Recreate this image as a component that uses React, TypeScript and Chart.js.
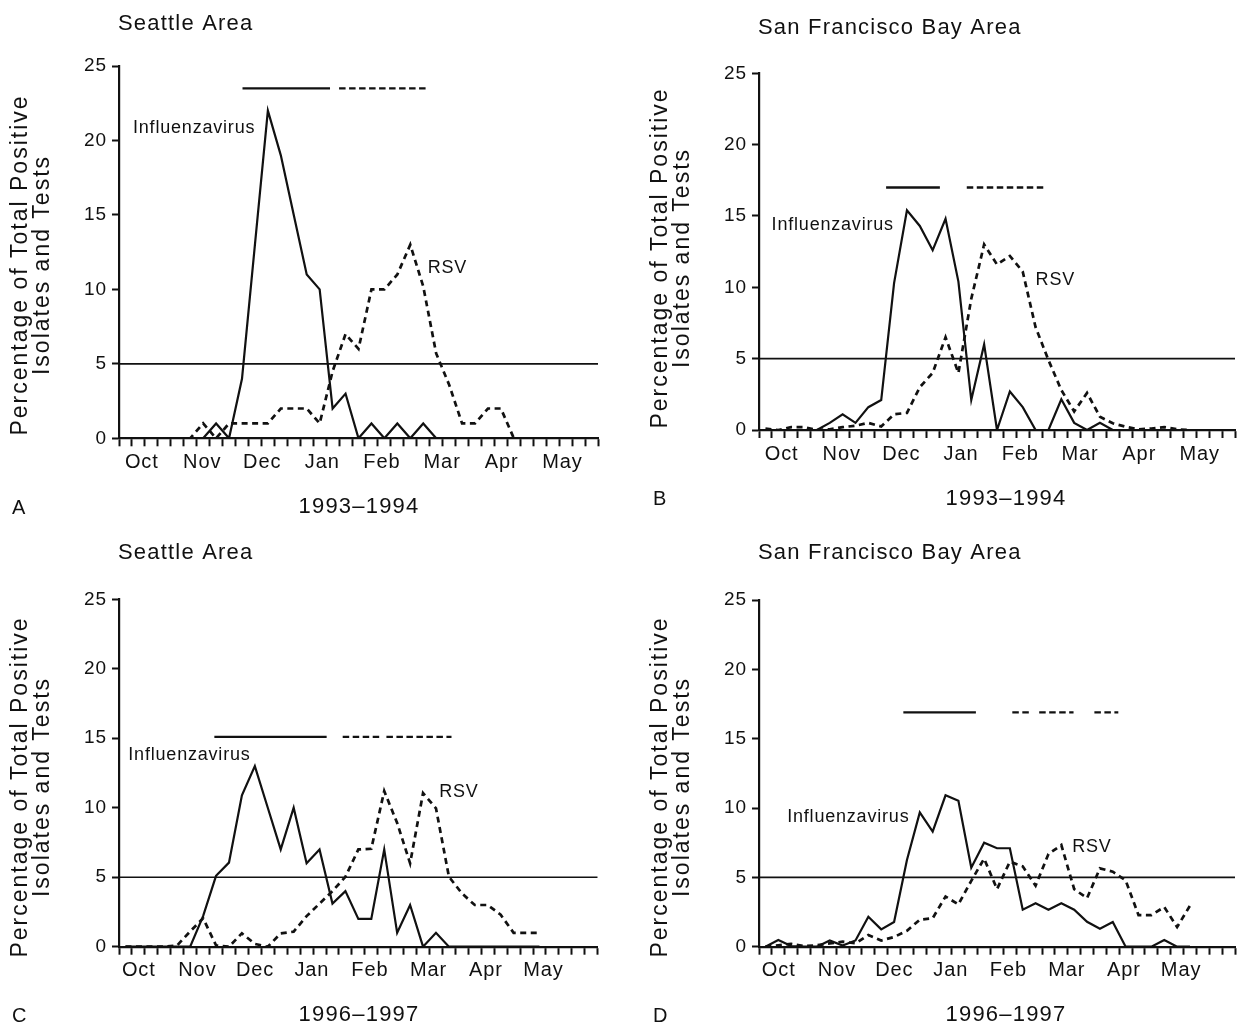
import React, { useEffect, useRef } from 'react';
import { Chart, registerables } from 'chart.js';

Chart.register(...registerables);

// ---------- data ----------
const WEEKS = 37;
const MONTHS = ['Oct', 'Nov', 'Dec', 'Jan', 'Feb', 'Mar', 'Apr', 'May'];
const monthPos9394 = [1.76, 6.43, 11.06, 15.7, 20.31, 24.96, 29.56, 34.26];
const monthPos9697 = [1.53, 6.06, 10.52, 14.91, 19.39, 23.92, 28.36, 32.81];
const Y_TICKS = [0, 5, 10, 15, 20, 25];
const THRESHOLD = 5;

const fluA = [0, 0, 0, 0, 0, 0, 0, 1, 0, 4, 13, 22, 19, 15, 11, 10, 2, 3, 0, 1, 0, 1, 0, 1, 0, 0, 0, 0, 0, 0, 0, 0, 0, 0];
const rsvA = [0, 0, 0, 0, 0, 0, 1, 0, 1, 1, 1, 1, 2, 2, 2, 1, 4.5, 7, 6, 10, 10, 11, 13, 10.2, 5.7, 3.6, 1, 1, 2, 2, 0, 0, 0, 0];
const fluB = [0, 0, 0, 0, 0, 0.5, 1.1, 0.5, 1.6, 2.1, 10.3, 15.4, 14.3, 12.6, 14.8, 10.4, 2.1, 6, 0, 2.7, 1.6, 0, 0, 2.15, 0.5, 0, 0.5, 0, 0, 0, 0, 0, 0, 0];
const rsvB = [0.1, 0, 0.2, 0.2, 0, 0.05, 0.2, 0.3, 0.5, 0.25, 1.1, 1.2, 3, 4, 6.5, 4, 9.2, 13, 11.6, 12.2, 11.1, 7.2, 4.9, 2.8, 1.3, 2.6, 0.93, 0.47, 0.23, 0.05, 0.1, 0.2, 0.05, 0];
const fluC = [0, 0, 0, 0, 0, 0, 2.2, 5.1, 6.05, 10.9, 13, 10, 7, 10, 6, 7, 3.1, 4, 2, 2, 7, 1, 3, 0, 1, 0, 0, 0, 0, 0, 0, 0, 0];
const rsvC = [0, 0, 0, 0, 0.1, 1.1, 2.05, 0.1, 0, 0.96, 0.2, 0, 0.96, 1.08, 2.2, 3.1, 4, 5.03, 7, 7.05, 11.2, 8.9, 6, 11.05, 9.96, 5.04, 3.84, 3, 3, 2.3, 1, 1, 1];
const fluD = [0, 0.48, 0.05, 0, 0, 0.45, 0.08, 0.45, 2.16, 1.25, 1.78, 6.25, 9.68, 8.3, 10.92, 10.52, 5.7, 7.5, 7.1, 7.1, 2.67, 3.13, 2.67, 3.13, 2.67, 1.8, 1.3, 1.78, 0, 0, 0, 0.48, 0, 0];
const rsvD = [0, 0.1, 0.2, 0.05, 0.1, 0.24, 0.36, 0.24, 0.84, 0.45, 0.7, 1.15, 1.95, 2.05, 3.62, 3.05, 4.75, 6.35, 4.15, 6.13, 5.8, 4.4, 6.68, 7.33, 4.15, 3.5, 5.65, 5.41, 4.78, 2.28, 2.28, 2.86, 1.42, 2.96];

// epidemic-period bars (week units) and their level
const fluBarA = [[9.54, 16.3]];
const rsvBarA = [[17.0, 23.9]];
const barLevelA = 23.5;
const fluBarB = [[9.88, 14.06]];
const rsvBarB = [[16.15, 22.3]];
const barLevelB = 17;
const fluBarC = [[7.37, 16.05]];
const rsvBarC = [[17.29, 20.16], [20.67, 25.7]];
const barLevelC = 15.1;
const fluBarD = [[11.22, 16.86]];
const rsvBarD = [[19.69, 21.0], [21.78, 24.45], [26.07, 27.93]];
const barLevelD = 16.9;

// ---------- style / layout ----------
const FONT = '"Liberation Sans", Arial, Helvetica, sans-serif';
const INK = '#111';

type Panel = {
  letter: string; title: string; season: string;
  flu: number[]; rsv: number[]; fluBar: number[][]; rsvBar: number[][]; barLevel: number;
  months: number[];
  canvas: { l: number; t: number; w: number; h: number };
  area: { l: number; r: number; t: number; b: number };
  titlePos: [number, number]; letterPos: [number, number]; seasonPos: [number, number];
  yTitle: { x1: number; x2: number; cy: number };
  fluLabel: [number, number]; rsvLabel: [number, number];
};

const panels: Panel[] = [
  {
    letter: 'A', title: 'Seattle Area', season: '1993\u20131994', flu: fluA, rsv: rsvA, fluBar: fluBarA, rsvBar: rsvBarA, barLevel: barLevelA,
    months: monthPos9394, canvas: { l: 0, t: 0, w: 620, h: 530 }, area: { l: 119, r: 598, t: 66, b: 438.3 },
    titlePos: [118, 30], letterPos: [12, 514], seasonPos: [359, 513], yTitle: { x1: 21, x2: 43, cy: 265 },
    fluLabel: [1.08, 20.5], rsvLabel: [23.85, 11.08],
  },
  {
    letter: 'B', title: 'San Francisco Bay Area', season: '1993\u20131994', flu: fluB, rsv: rsvB, fluBar: fluBarB, rsvBar: rsvBarB, barLevel: barLevelB,
    months: monthPos9394, canvas: { l: 620, t: 0, w: 619, h: 530 }, area: { l: 759, r: 1237, t: 73.3, b: 430 },
    titlePos: [758, 34], letterPos: [653, 505], seasonPos: [1006, 505], yTitle: { x1: 661, x2: 683, cy: 258 },
    fluLabel: [0.98, 14.0], rsvLabel: [21.5, 10.16],
  },
  {
    letter: 'C', title: 'Seattle Area', season: '1996\u20131997', flu: fluC, rsv: rsvC, fluBar: fluBarC, rsvBar: rsvBarC, barLevel: barLevelC,
    months: monthPos9697, canvas: { l: 0, t: 530, w: 620, h: 495 }, area: { l: 119, r: 597.7, t: 599.3, b: 946.7 },
    titlePos: [118, 559], letterPos: [12, 1022], seasonPos: [359, 1021], yTitle: { x1: 21, x2: 43, cy: 787 },
    fluLabel: [0.72, 13.43], rsvLabel: [24.75, 10.79],
  },
  {
    letter: 'D', title: 'San Francisco Bay Area', season: '1996\u20131997', flu: fluD, rsv: rsvD, fluBar: fluBarD, rsvBar: rsvBarD, barLevel: barLevelD,
    months: monthPos9697, canvas: { l: 620, t: 530, w: 619, h: 495 }, area: { l: 759, r: 1238.3, t: 600, b: 946.7 },
    titlePos: [758, 559], letterPos: [653, 1022], seasonPos: [1006, 1021], yTitle: { x1: 661, x2: 683, cy: 787 },
    fluLabel: [2.19, 9.01], rsvLabel: [24.35, 6.85],
  },
];

const X_AXIS_H = 40;

function toPoints(values: number[]) {
  return values.map((v, i) => ({ x: i + 0.5, y: v }));
}

function PanelChart({ p }: { p: Panel }) {
  const ref = useRef<HTMLCanvasElement | null>(null);
  useEffect(() => {
    const canvas = ref.current;
    if (!canvas) return;
    const { canvas: c, area } = p;
    const yAxisW = area.l - c.l;
    const padRight = c.l + c.w - area.r;
    const padTop = area.t - c.t;
    const padBottom = c.t + c.h - area.b - X_AXIS_H;

    const monthTicks = p.months.map((v, i) => ({ value: v, label: MONTHS[i] }));

    const datasets: any[] = [];
    datasets.push({
      label: 'threshold', data: [{ x: 0, y: THRESHOLD }, { x: WEEKS, y: THRESHOLD }],
      borderColor: INK, borderWidth: 1.6, pointRadius: 0,
    });
    p.fluBar.forEach((s) => datasets.push({
      label: 'flu period', data: [{ x: s[0], y: p.barLevel }, { x: s[1], y: p.barLevel }],
      borderColor: INK, borderWidth: 2.4, pointRadius: 0,
    }));
    p.rsvBar.forEach((s) => datasets.push({
      label: 'rsv period', data: [{ x: s[0], y: p.barLevel }, { x: s[1], y: p.barLevel }],
      borderColor: INK, borderWidth: 2.4, pointRadius: 0, borderDash: [6.5, 3.5],
    }));
    datasets.push({
      label: 'RSV', data: toPoints(p.rsv), borderColor: INK, borderWidth: 2.7,
      borderDash: [6, 4.5], pointRadius: 0, tension: 0,
    });
    datasets.push({
      label: 'Influenzavirus', data: toPoints(p.flu), borderColor: INK, borderWidth: 2.2,
      pointRadius: 0, tension: 0,
    });

    const textPlugin = {
      id: 'panelText',
      beforeDraw(chart: any) {
        chart.ctx.letterSpacing = '0.9px';
      },
      afterDraw(chart: any) {
        const ctx = chart.ctx;
        const ox = c.l, oy = c.t;
        ctx.save();
        ctx.fillStyle = INK;
        ctx.textBaseline = 'alphabetic';
        // title
        ctx.letterSpacing = '1.2px';
        ctx.font = `22px ${FONT}`;
        ctx.textAlign = 'left';
        ctx.fillText(p.title, p.titlePos[0] - ox, p.titlePos[1] - oy);
        // panel letter
        ctx.font = `20px ${FONT}`;
        ctx.fillText(p.letter, p.letterPos[0] - ox, p.letterPos[1] - oy);
        // season
        ctx.textAlign = 'center';
        ctx.font = `22px ${FONT}`;
        ctx.fillText(p.season, p.seasonPos[0] - ox, p.seasonPos[1] - oy);
        // y title
        ctx.letterSpacing = '2px';
        [['Percentage of Total Positive', p.yTitle.x1], ['Isolates and Tests', p.yTitle.x2]].forEach(([txt, x]) => {
          ctx.save();
          ctx.font = `23px ${FONT}`;
          ctx.textBaseline = 'middle';
          ctx.textAlign = 'center';
          ctx.translate((x as number) - ox, p.yTitle.cy - oy);
          ctx.rotate(-Math.PI / 2);
          ctx.fillText(txt as string, 0, 0);
          ctx.restore();
        });
        // series labels
        const xs = chart.scales.x, ys = chart.scales.y;
        ctx.letterSpacing = '0.8px';
        ctx.textAlign = 'left';
        ctx.font = `18px ${FONT}`;
        ctx.fillText('Influenzavirus', xs.getPixelForValue(p.fluLabel[0]), ys.getPixelForValue(p.fluLabel[1]));
        ctx.fillText('RSV', xs.getPixelForValue(p.rsvLabel[0]), ys.getPixelForValue(p.rsvLabel[1]));
        ctx.restore();
      },
    };

    const chart = new Chart(canvas, {
      type: 'line',
      data: { datasets },
      options: {
        animation: false,
        responsive: false,
        events: [],
        layout: { padding: { left: 0, right: padRight, top: padTop, bottom: padBottom } },
        plugins: { legend: { display: false }, tooltip: { enabled: false }, title: { display: false } },
        scales: {
          x: {
            type: 'linear', min: 0, max: WEEKS,
            afterBuildTicks: (axis: any) => {
              const t: any[] = [];
              for (let i = 0; i <= WEEKS; i++) t.push({ value: i });
              monthTicks.forEach((m) => t.push({ value: m.value }));
              t.sort((a, b) => a.value - b.value);
              axis.ticks = t;
            },
            afterFit: (scale: any) => { scale.height = X_AXIS_H; },
            ticks: {
              autoSkip: false, maxRotation: 0, minRotation: 0, padding: 4,
              color: INK, font: { family: FONT, size: 20 },
              callback: (val: any) => {
                const m = monthTicks.find((mm) => Math.abs(mm.value - val) < 1e-6);
                return m ? m.label : '';
              },
            },
            grid: {
              drawOnChartArea: false, drawTicks: true, tickLength: 8, tickWidth: 2,
              tickColor: (ctx: any) => (ctx.tick && ctx.tick.label ? 'rgba(0,0,0,0)' : INK),
            },
            border: { display: true, color: INK, width: 2.2 },
          },
          y: {
            type: 'linear', min: 0, max: 25,
            afterBuildTicks: (axis: any) => { axis.ticks = Y_TICKS.map((v) => ({ value: v })); },
            afterFit: (scale: any) => { scale.width = yAxisW; },
            ticks: { color: INK, font: { family: FONT, size: 19 }, padding: 5, callback: (v: any) => String(v) },
            grid: { drawOnChartArea: false, drawTicks: true, tickLength: 7, tickWidth: 2, tickColor: INK },
            border: { display: true, color: INK, width: 2.2 },
          },
        },
      } as any,
      plugins: [textPlugin],
    });
    return () => chart.destroy();
  }, [p]);

  return (
    <canvas
      ref={ref}
      width={p.canvas.w}
      height={p.canvas.h}
      style={{ position: 'absolute', left: p.canvas.l, top: p.canvas.t, width: p.canvas.w, height: p.canvas.h }}
    />
  );
}

export default function App() {
  return (
    <div style={{ position: 'absolute', left: 0, top: 0, width: 1239, height: 1025, background: '#fff' }}>
      {panels.map((p) => <PanelChart key={p.letter} p={p} />)}
    </div>
  );
}
